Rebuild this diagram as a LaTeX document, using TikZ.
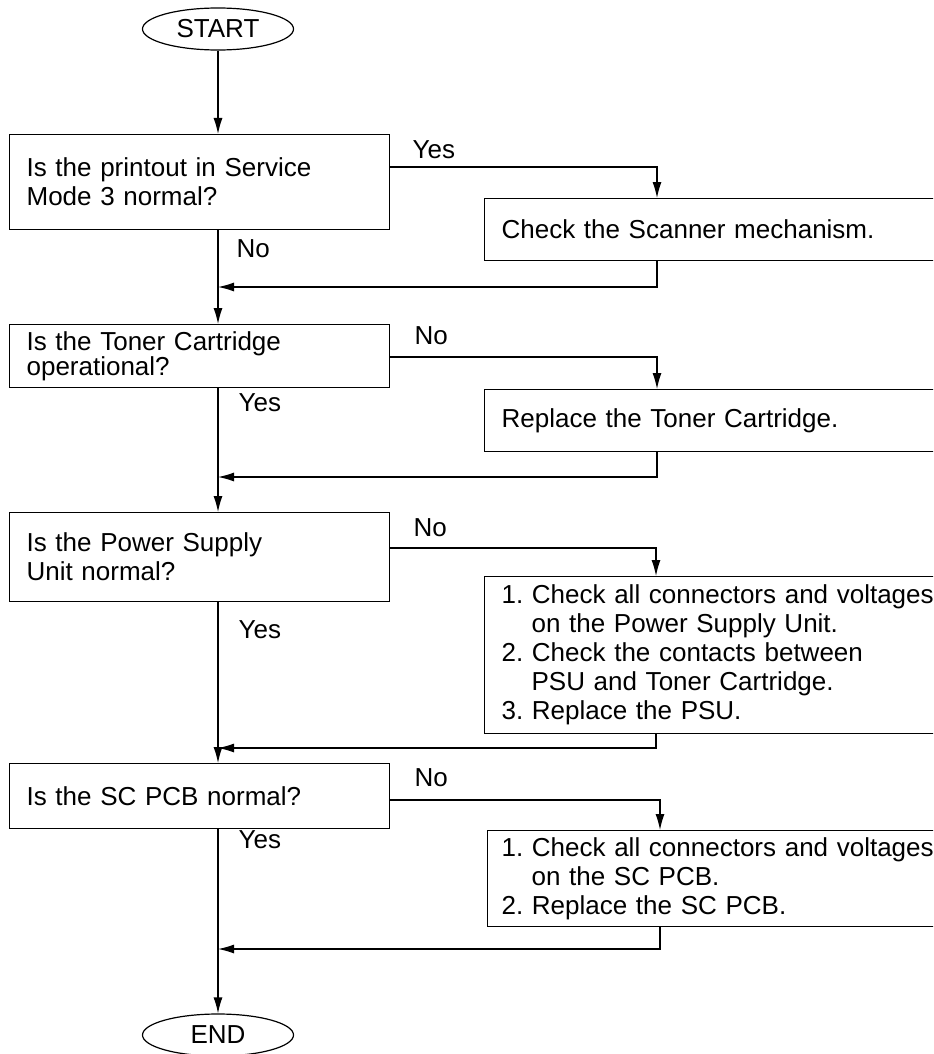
\documentclass[tikz,border=0pt]{standalone}
\usepackage{fontspec}
\setmainfont{Liberation Sans}
\usetikzlibrary{shapes.geometric,arrows.meta}
\begin{document}
\begin{tikzpicture}[x=0.5pt, y=-0.5pt, >={Latex[length=8pt,width=4.5pt]}, line width=0.6pt,
    every node/.style={font=\fontsize{13}{14.5}\selectfont},
    term/.style={ellipse, draw, minimum width=75.5pt, minimum height=21pt, inner sep=0pt},
    qbox/.style={rectangle, draw, anchor=north west, text width=173pt, inner xsep=8.5pt, align=left},
    abox/.style={rectangle, draw, anchor=north west, text width=260pt, inner xsep=8.5pt, align=left},
    lbl/.style={inner sep=0pt, anchor=base west}]
    \useasboundingbox (0,0) rectangle (933,1054);
    \clip (0,0) rectangle (933,1054);

    \node[term] (START) at (218,29) {START};
    \node[qbox, minimum height=47.5pt] (Q1) at (9,134) {Is the printout in Service\\Mode 3 normal?};
    \node[abox, minimum height=31pt] (A1) at (484,198) {Check the Scanner mechanism.};
    \node[qbox, minimum height=31.5pt, font=\fontsize{13}{12.5}\selectfont] (Q2) at (9,324) {Is the Toner Cartridge\\operational?};
    \node[abox, minimum height=31pt] (A2) at (484,389) {Replace the Toner Cartridge.};
    \node[qbox, minimum height=44.5pt] (Q3) at (9,512) {Is the Power Supply\\Unit normal?};
    \node[abox, minimum height=78.5pt] (A3) at (484,576) {1.\ Check all connectors and voltages\\\hspace*{15pt}on the Power Supply Unit.\\2.\ Check the contacts between\\\hspace*{15pt}PSU and Toner Cartridge.\\3.\ Replace the PSU.};
    \node[qbox, minimum height=32.5pt] (Q4) at (9,763) {Is the SC PCB normal?};
    \node[abox, minimum height=46.5pt, inner xsep=7pt] (A4) at (487,830) {1.\ Check all connectors and voltages\\\hspace*{15pt}on the SC PCB.\\2.\ Replace the SC PCB.};
    \node[term] (END) at (218,1035) {END};

    % yes / no labels
    \node[lbl] (y1) at (412,158) {Yes};
    \node[lbl] (n1) at (236,257) {No};
    \node[lbl] (n2) at (414,344) {No};
    \node[lbl] (y2) at (238,411) {Yes};
    \node[lbl] (n3) at (413,536) {No};
    \node[lbl] (y3) at (238,638) {Yes};
    \node[lbl] (n4) at (414,786) {No};
    \node[lbl] (y4) at (238,848) {Yes};

    \coordinate (r1) at (657,167); \coordinate (j1) at (218,287);
    \coordinate (r2) at (657,357); \coordinate (j2) at (218,477);
    \coordinate (r3) at (656,548); \coordinate (j3) at (218,748);
    \coordinate (r4) at (660,800); \coordinate (j4) at (218,949);

    % main line
    \draw[->] (START) -- (START |- Q1.north);
    \draw[->] (START |- Q1.south) -- (START |- Q2.north);
    \draw[->] (START |- Q2.south) -- (START |- Q3.north);
    \draw[->] (START |- Q3.south) -- (START |- Q4.north);
    \draw[->] (START |- Q4.south) -- (END);

    % side branches
    \draw[->] (Q1.east |- r1) -| (A1.north -| r1);
    \draw[->] (A1.south -| r1) |- (j1);
    \draw[->] (Q2.east |- r2) -| (A2.north -| r2);
    \draw[->] (A2.south -| r2) |- (j2);
    \draw[->] (Q3.east |- r3) -| (A3.north -| r3);
    \draw[->] (A3.south -| r3) |- (j3);
    \draw[->] (Q4.east |- r4) -| (A4.north -| r4);
    \draw[->] (A4.south -| r4) |- (j4);
\end{tikzpicture}
\end{document}
